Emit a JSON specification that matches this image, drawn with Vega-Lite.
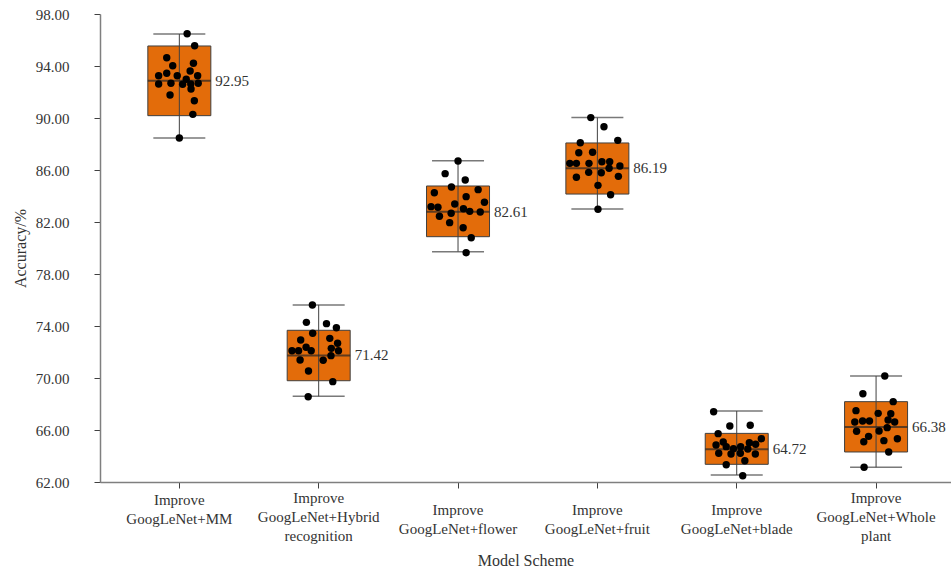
{
  "$schema": "https://vega.github.io/schema/vega-lite/v6.json",
  "width": 851,
  "height": 468,
  "autosize": {"type": "none"},
  "padding": {"left": 100, "top": 14, "right": 0, "bottom": 90},
  "background": "white",
  "config": {
    "view": {"stroke": null},
    "font": "Liberation Serif",
    "axis": {"grid": false, "domainColor": "#7f7f7f", "domainWidth": 1.5, "tickColor": "#404040", "tickSize": 6, "labelFont": "Liberation Serif", "titleFont": "Liberation Serif", "labelColor": "#333333", "titleColor": "#333333", "titleFontWeight": "normal"}
  },
  "datasets": {
    "stats": [
      {"model": "Improve\nGoogLeNet+MM", "min": 88.46, "q1": 90.18, "median": 92.87, "q3": 95.54, "max": 96.46, "label": "92.95"},
      {"model": "Improve\nGoogLeNet+Hybrid\nrecognition", "min": 68.59, "q1": 69.79, "median": 71.74, "q3": 73.67, "max": 75.62, "label": "71.42"},
      {"model": "Improve\nGoogLeNet+flower", "min": 79.72, "q1": 80.87, "median": 82.79, "q3": 84.77, "max": 86.72, "label": "82.61"},
      {"model": "Improve\nGoogLeNet+fruit", "min": 83.0, "q1": 84.15, "median": 86.13, "q3": 88.08, "max": 90.03, "label": "86.19"},
      {"model": "Improve\nGoogLeNet+blade", "min": 62.54, "q1": 63.36, "median": 64.51, "q3": 65.74, "max": 67.46, "label": "64.72"},
      {"model": "Improve\nGoogLeNet+Whole\nplant", "min": 63.13, "q1": 64.31, "median": 66.23, "q3": 68.18, "max": 70.15, "label": "66.38"}
    ],
    "points": [
      {"model": "Improve\nGoogLeNet+MM", "acc": 96.48, "jitter": 0.26},
      {"model": "Improve\nGoogLeNet+MM", "acc": 95.56, "jitter": 0.51},
      {"model": "Improve\nGoogLeNet+MM", "acc": 94.64, "jitter": -0.42},
      {"model": "Improve\nGoogLeNet+MM", "acc": 94.21, "jitter": 0.47},
      {"model": "Improve\nGoogLeNet+MM", "acc": 94.02, "jitter": -0.22},
      {"model": "Improve\nGoogLeNet+MM", "acc": 93.62, "jitter": 0.36},
      {"model": "Improve\nGoogLeNet+MM", "acc": 93.44, "jitter": -0.42},
      {"model": "Improve\nGoogLeNet+MM", "acc": 93.25, "jitter": -0.69},
      {"model": "Improve\nGoogLeNet+MM", "acc": 93.25, "jitter": -0.07},
      {"model": "Improve\nGoogLeNet+MM", "acc": 93.25, "jitter": 0.61},
      {"model": "Improve\nGoogLeNet+MM", "acc": 92.98, "jitter": 0.23},
      {"model": "Improve\nGoogLeNet+MM", "acc": 92.62, "jitter": -0.69},
      {"model": "Improve\nGoogLeNet+MM", "acc": 92.67, "jitter": -0.28},
      {"model": "Improve\nGoogLeNet+MM", "acc": 92.59, "jitter": 0.11},
      {"model": "Improve\nGoogLeNet+MM", "acc": 92.62, "jitter": 0.38},
      {"model": "Improve\nGoogLeNet+MM", "acc": 92.67, "jitter": 0.63},
      {"model": "Improve\nGoogLeNet+MM", "acc": 92.23, "jitter": 0.39},
      {"model": "Improve\nGoogLeNet+MM", "acc": 91.77, "jitter": -0.31},
      {"model": "Improve\nGoogLeNet+MM", "acc": 91.33, "jitter": 0.5},
      {"model": "Improve\nGoogLeNet+MM", "acc": 90.28, "jitter": 0.45},
      {"model": "Improve\nGoogLeNet+MM", "acc": 88.46, "jitter": 0},
      {"model": "Improve\nGoogLeNet+Hybrid\nrecognition", "acc": 75.62, "jitter": -0.21},
      {"model": "Improve\nGoogLeNet+Hybrid\nrecognition", "acc": 74.28, "jitter": -0.41},
      {"model": "Improve\nGoogLeNet+Hybrid\nrecognition", "acc": 74.18, "jitter": 0.26},
      {"model": "Improve\nGoogLeNet+Hybrid\nrecognition", "acc": 73.87, "jitter": 0.59},
      {"model": "Improve\nGoogLeNet+Hybrid\nrecognition", "acc": 73.44, "jitter": -0.2},
      {"model": "Improve\nGoogLeNet+Hybrid\nrecognition", "acc": 73.05, "jitter": 0.37},
      {"model": "Improve\nGoogLeNet+Hybrid\nrecognition", "acc": 72.92, "jitter": -0.6},
      {"model": "Improve\nGoogLeNet+Hybrid\nrecognition", "acc": 72.67, "jitter": 0.63},
      {"model": "Improve\nGoogLeNet+Hybrid\nrecognition", "acc": 72.36, "jitter": -0.42},
      {"model": "Improve\nGoogLeNet+Hybrid\nrecognition", "acc": 72.28, "jitter": 0.42},
      {"model": "Improve\nGoogLeNet+Hybrid\nrecognition", "acc": 72.1, "jitter": -0.89},
      {"model": "Improve\nGoogLeNet+Hybrid\nrecognition", "acc": 72.1, "jitter": -0.67},
      {"model": "Improve\nGoogLeNet+Hybrid\nrecognition", "acc": 72.1, "jitter": -0.25},
      {"model": "Improve\nGoogLeNet+Hybrid\nrecognition", "acc": 72.1, "jitter": 0.66},
      {"model": "Improve\nGoogLeNet+Hybrid\nrecognition", "acc": 71.72, "jitter": 0.41},
      {"model": "Improve\nGoogLeNet+Hybrid\nrecognition", "acc": 71.38, "jitter": -0.62},
      {"model": "Improve\nGoogLeNet+Hybrid\nrecognition", "acc": 71.36, "jitter": 0.15},
      {"model": "Improve\nGoogLeNet+Hybrid\nrecognition", "acc": 70.54, "jitter": -0.34},
      {"model": "Improve\nGoogLeNet+Hybrid\nrecognition", "acc": 69.72, "jitter": 0.47},
      {"model": "Improve\nGoogLeNet+Hybrid\nrecognition", "acc": 68.56, "jitter": -0.35},
      {"model": "Improve\nGoogLeNet+flower", "acc": 86.69, "jitter": 0},
      {"model": "Improve\nGoogLeNet+flower", "acc": 85.72, "jitter": -0.43},
      {"model": "Improve\nGoogLeNet+flower", "acc": 85.23, "jitter": 0.24},
      {"model": "Improve\nGoogLeNet+flower", "acc": 84.69, "jitter": -0.22},
      {"model": "Improve\nGoogLeNet+flower", "acc": 84.49, "jitter": 0.67},
      {"model": "Improve\nGoogLeNet+flower", "acc": 84.25, "jitter": -0.79},
      {"model": "Improve\nGoogLeNet+flower", "acc": 83.95, "jitter": 0.27},
      {"model": "Improve\nGoogLeNet+flower", "acc": 83.52, "jitter": 0.88},
      {"model": "Improve\nGoogLeNet+flower", "acc": 83.38, "jitter": -0.11},
      {"model": "Improve\nGoogLeNet+flower", "acc": 83.18, "jitter": -0.9},
      {"model": "Improve\nGoogLeNet+flower", "acc": 83.13, "jitter": -0.67},
      {"model": "Improve\nGoogLeNet+flower", "acc": 83.02, "jitter": 0.18},
      {"model": "Improve\nGoogLeNet+flower", "acc": 82.82, "jitter": 0.39},
      {"model": "Improve\nGoogLeNet+flower", "acc": 82.77, "jitter": 0.74},
      {"model": "Improve\nGoogLeNet+flower", "acc": 82.67, "jitter": -0.23},
      {"model": "Improve\nGoogLeNet+flower", "acc": 82.44, "jitter": -0.62},
      {"model": "Improve\nGoogLeNet+flower", "acc": 81.95, "jitter": -0.28},
      {"model": "Improve\nGoogLeNet+flower", "acc": 81.56, "jitter": 0.17},
      {"model": "Improve\nGoogLeNet+flower", "acc": 80.79, "jitter": 0.44},
      {"model": "Improve\nGoogLeNet+flower", "acc": 79.64, "jitter": 0.27},
      {"model": "Improve\nGoogLeNet+fruit", "acc": 90.03, "jitter": -0.22},
      {"model": "Improve\nGoogLeNet+fruit", "acc": 89.33, "jitter": 0.22},
      {"model": "Improve\nGoogLeNet+fruit", "acc": 88.1, "jitter": -0.57},
      {"model": "Improve\nGoogLeNet+fruit", "acc": 88.28, "jitter": 0.68},
      {"model": "Improve\nGoogLeNet+fruit", "acc": 87.33, "jitter": -0.62},
      {"model": "Improve\nGoogLeNet+fruit", "acc": 87.36, "jitter": -0.16},
      {"model": "Improve\nGoogLeNet+fruit", "acc": 86.51, "jitter": -0.92},
      {"model": "Improve\nGoogLeNet+fruit", "acc": 86.51, "jitter": -0.7},
      {"model": "Improve\nGoogLeNet+fruit", "acc": 86.51, "jitter": -0.28},
      {"model": "Improve\nGoogLeNet+fruit", "acc": 86.64, "jitter": 0.15},
      {"model": "Improve\nGoogLeNet+fruit", "acc": 86.64, "jitter": 0.41},
      {"model": "Improve\nGoogLeNet+fruit", "acc": 86.31, "jitter": 0.75},
      {"model": "Improve\nGoogLeNet+fruit", "acc": 86.13, "jitter": 0.39},
      {"model": "Improve\nGoogLeNet+fruit", "acc": 85.82, "jitter": -0.29},
      {"model": "Improve\nGoogLeNet+fruit", "acc": 85.79, "jitter": 0.13},
      {"model": "Improve\nGoogLeNet+fruit", "acc": 85.44, "jitter": -0.7},
      {"model": "Improve\nGoogLeNet+fruit", "acc": 85.51, "jitter": 0.7},
      {"model": "Improve\nGoogLeNet+fruit", "acc": 84.82, "jitter": 0.02},
      {"model": "Improve\nGoogLeNet+fruit", "acc": 84.1, "jitter": 0.44},
      {"model": "Improve\nGoogLeNet+fruit", "acc": 82.98, "jitter": 0.02},
      {"model": "Improve\nGoogLeNet+blade", "acc": 67.41, "jitter": -0.77},
      {"model": "Improve\nGoogLeNet+blade", "acc": 66.31, "jitter": -0.23},
      {"model": "Improve\nGoogLeNet+blade", "acc": 66.36, "jitter": 0.45},
      {"model": "Improve\nGoogLeNet+blade", "acc": 65.72, "jitter": -0.62},
      {"model": "Improve\nGoogLeNet+blade", "acc": 65.33, "jitter": 0.82},
      {"model": "Improve\nGoogLeNet+blade", "acc": 65.08, "jitter": -0.45},
      {"model": "Improve\nGoogLeNet+blade", "acc": 65.02, "jitter": 0.42},
      {"model": "Improve\nGoogLeNet+blade", "acc": 64.9, "jitter": 0.63},
      {"model": "Improve\nGoogLeNet+blade", "acc": 64.85, "jitter": -0.69},
      {"model": "Improve\nGoogLeNet+blade", "acc": 64.72, "jitter": -0.35},
      {"model": "Improve\nGoogLeNet+blade", "acc": 64.56, "jitter": -0.11},
      {"model": "Improve\nGoogLeNet+blade", "acc": 64.72, "jitter": 0.13},
      {"model": "Improve\nGoogLeNet+blade", "acc": 64.54, "jitter": 0.37},
      {"model": "Improve\nGoogLeNet+blade", "acc": 64.21, "jitter": -0.6},
      {"model": "Improve\nGoogLeNet+blade", "acc": 64.15, "jitter": -0.19},
      {"model": "Improve\nGoogLeNet+blade", "acc": 64.21, "jitter": 0.12},
      {"model": "Improve\nGoogLeNet+blade", "acc": 64.15, "jitter": 0.62},
      {"model": "Improve\nGoogLeNet+blade", "acc": 63.64, "jitter": 0.27},
      {"model": "Improve\nGoogLeNet+blade", "acc": 63.33, "jitter": -0.35},
      {"model": "Improve\nGoogLeNet+blade", "acc": 62.48, "jitter": 0.2},
      {"model": "Improve\nGoogLeNet+Whole\nplant", "acc": 70.15, "jitter": 0.29},
      {"model": "Improve\nGoogLeNet+Whole\nplant", "acc": 68.79, "jitter": -0.44},
      {"model": "Improve\nGoogLeNet+Whole\nplant", "acc": 68.18, "jitter": 0.57},
      {"model": "Improve\nGoogLeNet+Whole\nplant", "acc": 67.49, "jitter": -0.67},
      {"model": "Improve\nGoogLeNet+Whole\nplant", "acc": 67.28, "jitter": 0.07},
      {"model": "Improve\nGoogLeNet+Whole\nplant", "acc": 67.25, "jitter": 0.49},
      {"model": "Improve\nGoogLeNet+Whole\nplant", "acc": 66.62, "jitter": -0.71},
      {"model": "Improve\nGoogLeNet+Whole\nplant", "acc": 66.69, "jitter": -0.45},
      {"model": "Improve\nGoogLeNet+Whole\nplant", "acc": 66.69, "jitter": -0.22},
      {"model": "Improve\nGoogLeNet+Whole\nplant", "acc": 66.77, "jitter": 0.4},
      {"model": "Improve\nGoogLeNet+Whole\nplant", "acc": 66.62, "jitter": 0.62},
      {"model": "Improve\nGoogLeNet+Whole\nplant", "acc": 66.18, "jitter": 0.37},
      {"model": "Improve\nGoogLeNet+Whole\nplant", "acc": 65.9, "jitter": -0.65},
      {"model": "Improve\nGoogLeNet+Whole\nplant", "acc": 65.92, "jitter": 0.1},
      {"model": "Improve\nGoogLeNet+Whole\nplant", "acc": 65.51, "jitter": -0.25},
      {"model": "Improve\nGoogLeNet+Whole\nplant", "acc": 65.33, "jitter": 0.71},
      {"model": "Improve\nGoogLeNet+Whole\nplant", "acc": 65.1, "jitter": -0.41},
      {"model": "Improve\nGoogLeNet+Whole\nplant", "acc": 65.18, "jitter": 0.26},
      {"model": "Improve\nGoogLeNet+Whole\nplant", "acc": 64.31, "jitter": 0.42},
      {"model": "Improve\nGoogLeNet+Whole\nplant", "acc": 63.13, "jitter": -0.4}
    ]
  },
  "encoding": {
    "x": {
      "field": "model",
      "type": "nominal",
      "sort": null,
      "title": "Model Scheme",
      "scale": {"type": "band", "paddingInner": 0.5, "paddingOuter": 0.3035, "align": 0.526, "round": false},
      "axis": {
        "labelAngle": 0,
        "labelExpr": "split(datum.label, '\\n')",
        "labelFontSize": 15,
        "labelLineHeight": 19,
        "labelBaseline": "middle",
        "labelPadding": {"condition": [
          {"test": "indexof(datum.value, 'recognition') >= 0 || indexof(datum.value, 'plant') >= 0", "value": 9},
          {"test": "indexof(datum.value, 'MM') >= 0", "value": 11}
        ], "value": 21},
        "labelLimit": 0,
        "titleFontSize": 16,
        "titlePadding": 9
      }
    }
  },
  "layer": [
    {
      "data": {"name": "stats"},
      "mark": {"type": "bar", "size": 63, "fill": "#E36C0A", "stroke": "#3f3f3f", "strokeWidth": 1},
      "encoding": {
        "y": {
          "field": "q1",
          "type": "quantitative",
          "title": "Accuracy/%",
          "scale": {"domain": [62, 98], "nice": false, "zero": false},
          "axis": {"values": [62, 66, 70, 74, 78, 82, 86, 90, 94, 98], "format": ".2f", "labelFontSize": 15, "labelPadding": 25, "titleFontSize": 16, "titlePadding": 7}
        },
        "y2": {"field": "q3"}
      }
    },
    {
      "data": {"name": "stats"},
      "mark": {"type": "rule", "color": "#404040", "strokeWidth": 1},
      "encoding": {
        "y": {"field": "min", "type": "quantitative", "title": "Accuracy/%"},
        "y2": {"field": "max"}
      }
    },
    {
      "data": {"name": "stats"},
      "mark": {"type": "tick", "size": 52, "thickness": 1.5, "color": "#404040"},
      "encoding": {
        "y": {"field": "min", "type": "quantitative", "title": "Accuracy/%"}
      }
    },
    {
      "data": {"name": "stats"},
      "mark": {"type": "tick", "size": 52, "thickness": 1.5, "color": "#404040"},
      "encoding": {
        "y": {"field": "max", "type": "quantitative", "title": "Accuracy/%"}
      }
    },
    {
      "data": {"name": "stats"},
      "mark": {"type": "tick", "size": 63, "thickness": 2, "color": "#262626"},
      "encoding": {
        "y": {"field": "median", "type": "quantitative", "title": "Accuracy/%"}
      }
    },
    {
      "data": {"name": "points"},
      "mark": {"type": "point", "filled": true, "color": "#000000", "opacity": 1, "size": 55},
      "encoding": {
        "y": {"field": "acc", "type": "quantitative", "title": "Accuracy/%"},
        "xOffset": {"field": "jitter", "type": "quantitative", "scale": {"domain": [-1, 1], "range": [4.85, 64.85]}}
      }
    },
    {
      "data": {"name": "stats"},
      "mark": {"type": "text", "align": "left", "baseline": "middle", "dx": 36, "fontSize": 15, "color": "#333333", "font": "Liberation Serif"},
      "encoding": {
        "y": {"field": "median", "type": "quantitative", "title": "Accuracy/%"},
        "text": {"field": "label"}
      }
    }
  ]
}
